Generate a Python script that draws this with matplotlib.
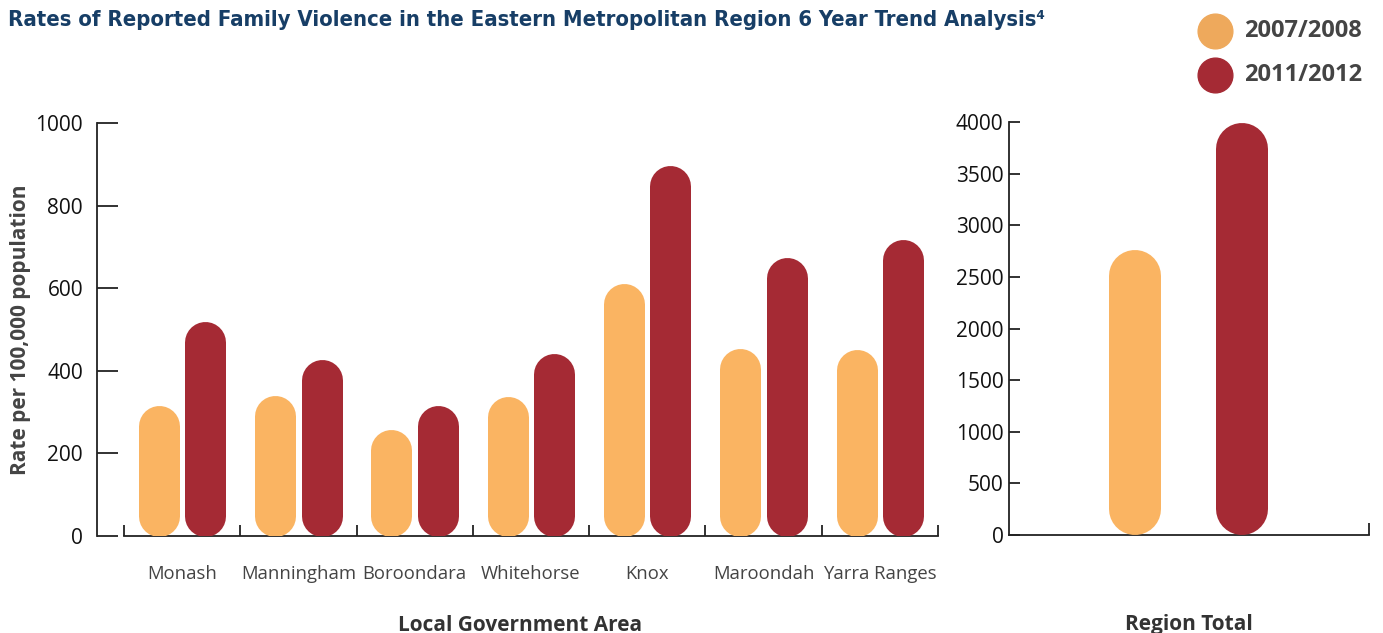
import matplotlib
matplotlib.use("Agg")
import matplotlib.pyplot as plt
from matplotlib.lines import Line2D

# rates per 100,000 population
areas = ["Monash", "Manningham", "Boroondara", "Whitehorse", "Knox", "Maroondah", "Yarra Ranges"]
rate_0708 = [315, 341, 259, 337, 612, 454, 452]
rate_1112 = [520, 428, 315, 443, 897, 675, 718]

region_0708 = 2760
region_1112 = 3990

years = ["2007/2008", "2011/2012"]

ORANGE = "#FAB462"
RED = "#A52A34"
NAVY = "#173E66"
GREY = "#444444"

plt.rcParams["font.family"] = ["Open Sans", "DejaVu Sans"]

DPI = 100
fig = plt.figure(figsize=(13.83, 6.33), dpi=DPI)

ax = fig.add_axes([0.0701, 0.1532, 0.6081, 0.6524])
ax2 = fig.add_axes([0.7296, 0.1548, 0.2603, 0.6520])


def capsule(axis, x, value, width_px, color):
    # vertical bar with round ends: a thick line with round caps,
    # shortened by the cap radius so the rounded tip sits on the value
    px_per_unit = axis.get_window_extent().height / (axis.get_ylim()[1] - axis.get_ylim()[0])
    r = (width_px / 2) / px_per_unit
    axis.plot([x, x], [r, value - r], color=color, lw=width_px * 72 / DPI,
              solid_capstyle="round", zorder=3)


# left panel: local government areas
ax.set_xlim(-0.732, 6.5)
ax.set_ylim(0, 1000)
offset = 0.2
for i in range(len(areas)):
    capsule(ax, i - offset, rate_0708[i], 41, ORANGE)
    capsule(ax, i + offset, rate_1112[i], 41, RED)

for s in ["top", "right"]:
    ax.spines[s].set_visible(False)
ax.spines["bottom"].set_bounds(-0.5, 6.5)
for s in ["left", "bottom"]:
    ax.spines[s].set_color("#222222")
    ax.spines[s].set_linewidth(1.3)

ax.set_yticks(range(0, 1001, 200))
ax.tick_params(axis="y", direction="in", length=15, width=1.3, color="#222222",
               labelsize=15, pad=10, labelcolor="#111111")
ax.set_xticks([i - 0.5 for i in range(len(areas) + 1)])
ax.set_xticklabels([])
ax.tick_params(axis="x", direction="in", length=8, width=1.3, color="#222222")
for i, name in enumerate(areas):
    ax.text(i, -0.093, name, transform=ax.get_xaxis_transform(), ha="center", va="center",
            fontsize=13.3, color=GREY)
ax.text(0.503, -0.216, "Local Government Area", transform=ax.transAxes, ha="center", va="center",
        fontsize=15, fontweight="bold", color="#333333")
ax.set_ylabel("Rate per 100,000 population", fontsize=15, fontweight="bold", color=GREY, labelpad=3)

# right panel: region total
ax2.set_xlim(0, 1)
ax2.set_ylim(0, 4000)
capsule(ax2, 0.35, region_0708, 52, ORANGE)
capsule(ax2, 0.647, region_1112, 52, RED)
for s in ["top", "right"]:
    ax2.spines[s].set_visible(False)
for s in ["left", "bottom"]:
    ax2.spines[s].set_color("#222222")
    ax2.spines[s].set_linewidth(1.3)
ax2.set_yticks(range(0, 4001, 500))
ax2.tick_params(axis="y", direction="in", length=8, width=1.3, color="#222222",
                labelsize=15, pad=4, labelcolor="#111111")
ax2.set_xticks([1])
ax2.set_xticklabels([])
ax2.tick_params(axis="x", direction="in", length=9, width=1.3, color="#222222")
ax2.text(0.5, -0.216, "Region Total", transform=ax2.transAxes, ha="center", va="center",
         fontsize=15, fontweight="bold", color="#333333")

# title
fig.text(0.006, 0.984, "Rates of Reported Family Violence in the Eastern Metropolitan Region 6 Year Trend Analysis\u2074",
         ha="left", va="top", fontsize=15.8, fontweight="bold", fontstretch="condensed", color=NAVY,
         family=["DejaVu Sans"])

# legend: dots with year labels
for k, (lab, col) in enumerate(zip(years, ["#EEA95C", RED])):
    y = 1 - (31 + 44 * k) / 633
    fig.add_artist(Line2D([1215 / 1383], [y], marker="o", markersize=25, color=col,
                          transform=fig.transFigure, linestyle="none"))
    fig.text(1244 / 1383, y, lab, ha="left", va="center", fontsize=17, fontweight="bold", color=GREY)

fig.savefig("out.png", dpi=DPI)
